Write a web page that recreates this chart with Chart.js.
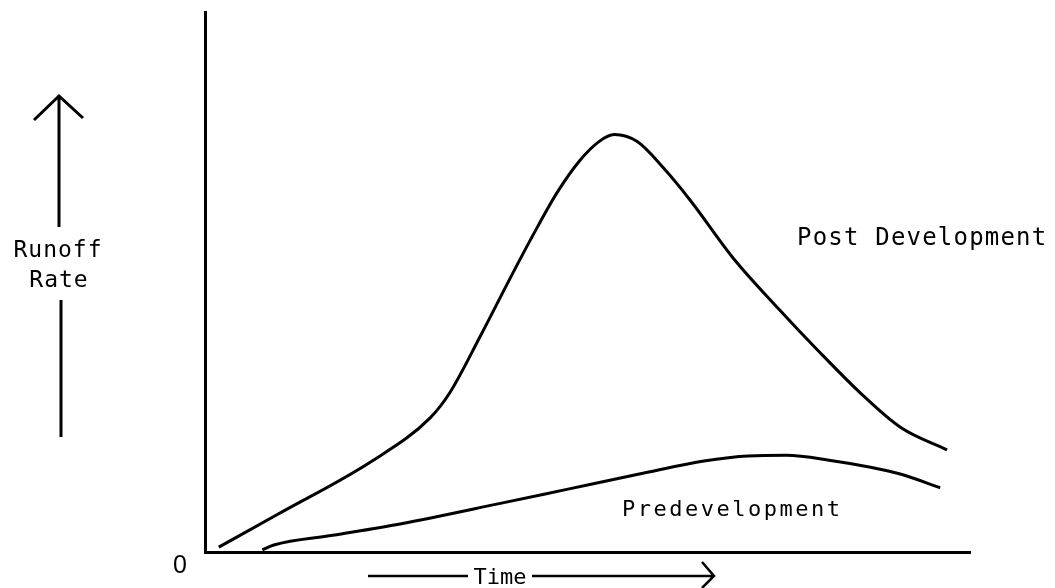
<!DOCTYPE html>
<html>
<head>
<meta charset="utf-8">
<script src="https://cdn.jsdelivr.net/npm/chart.js@4.4.1/dist/chart.umd.min.js"></script>
<style>
  html, body { margin: 0; padding: 0; background: #fff; }
  #wrap { width: 1055px; height: 588px; position: relative; }
</style>
</head>
<body>
<div id="wrap"><canvas id="runoffChart"></canvas></div>
<script>
// hydrograph (time and rate in relative units, 0-100)
const postTime = [1.8, 9.4, 22.0, 29.4, 32.0, 36.0, 40.0, 43.0, 46.0, 49.0, 51.5, 53.5, 56.5, 60.0, 63.5, 69.0, 75.0, 80.0, 86.0, 91.0, 97.0];
const postRate = [0.9, 6.9, 17.0, 24.8, 29.5, 40.0, 51.0, 59.0, 66.5, 72.5, 76.0, 77.3, 76.0, 71.0, 65.0, 54.5, 45.0, 37.5, 29.0, 23.0, 18.9];
const preTime = [7.5, 9.0, 16.7, 25.5, 38.6, 47.3, 58.0, 65.0, 71.0, 76.0, 82.0, 87.0, 91.0, 96.1];
const preRate = [0.4, 1.3, 3.1, 5.2, 9.0, 11.6, 14.8, 16.8, 17.8, 17.9, 16.9, 15.7, 14.4, 11.9];
const seriesNames = ["Post Development", "Predevelopment"];
const xLabel = "Time";
const yLabel = ["Runoff", "Rate"];
const originLabel = "0";

const toPoints = (xs, ys) => xs.map((x, i) => ({x: x, y: ys[i]}));

// hand-drawn labels, arrows and the "0" at the origin
const sketchLabels = {
  id: "sketchLabels",
  afterDraw(chart) {
    const ctx = chart.ctx;
    const area = chart.chartArea;
    ctx.save();
    ctx.fillStyle = "#000";
    ctx.strokeStyle = "#000";
    ctx.textBaseline = "alphabetic";

    // curve names
    ctx.font = "24px 'DejaVu Sans Mono'";
    ctx.letterSpacing = "1.2px";
    ctx.textAlign = "left";
    ctx.fillText(seriesNames[0], 797, 245);
    ctx.font = "22px 'DejaVu Sans Mono'";
    ctx.letterSpacing = "2.5px";
    ctx.fillText(seriesNames[1], 622, 516);

    // y label with arrow
    ctx.font = "23px 'DejaVu Sans Mono'";
    ctx.letterSpacing = "1px";
    ctx.textAlign = "center";
    ctx.fillText(yLabel[0], 58, 257);
    ctx.fillText(yLabel[1], 59, 287);
    ctx.lineWidth = 3;
    ctx.beginPath();
    ctx.moveTo(59, 96); ctx.lineTo(59, 227);
    ctx.moveTo(61, 300); ctx.lineTo(61, 437);
    ctx.moveTo(34, 120); ctx.lineTo(59, 96); ctx.lineTo(83, 118);
    ctx.stroke();

    // origin
    ctx.letterSpacing = "0px";
    ctx.font = "25px 'Liberation Sans'";
    ctx.fillText(originLabel, area.left - 25, area.bottom + 21);

    // x label with arrow
    ctx.font = "22px 'DejaVu Sans Mono'";
    ctx.fillText(xLabel, 500, 584);
    ctx.lineWidth = 2.5;
    ctx.beginPath();
    ctx.moveTo(368, 576); ctx.lineTo(468, 576);
    ctx.moveTo(532, 576); ctx.lineTo(712, 576);
    ctx.moveTo(702, 562); ctx.lineTo(714, 576); ctx.lineTo(702, 588);
    ctx.stroke();
    ctx.restore();
  }
};

new Chart(document.getElementById("runoffChart"), {
  type: "line",
  data: {
    datasets: [
      { label: seriesNames[0], data: toPoints(postTime, postRate), borderColor: "#000", borderWidth: 3, pointRadius: 0, cubicInterpolationMode: "monotone" },
      { label: seriesNames[1], data: toPoints(preTime, preRate), borderColor: "#000", borderWidth: 3, pointRadius: 0, cubicInterpolationMode: "monotone" }
    ]
  },
  options: {
    responsive: true,
    maintainAspectRatio: false,
    animation: false,
    layout: { padding: { left: 197, right: 85, top: 12, bottom: 28 } },
    plugins: { legend: { display: false }, tooltip: { enabled: false } },
    scales: {
      x: {
        type: "linear", min: 0, max: 100,
        grid: { display: false },
        border: { display: true, color: "#000", width: 3 },
        ticks: { display: false }
      },
      y: {
        type: "linear", min: 0, max: 100,
        grid: { display: false },
        border: { display: true, color: "#000", width: 3 },
        ticks: { display: false }
      }
    }
  },
  plugins: [sketchLabels]
});
</script>
</body>
</html>
